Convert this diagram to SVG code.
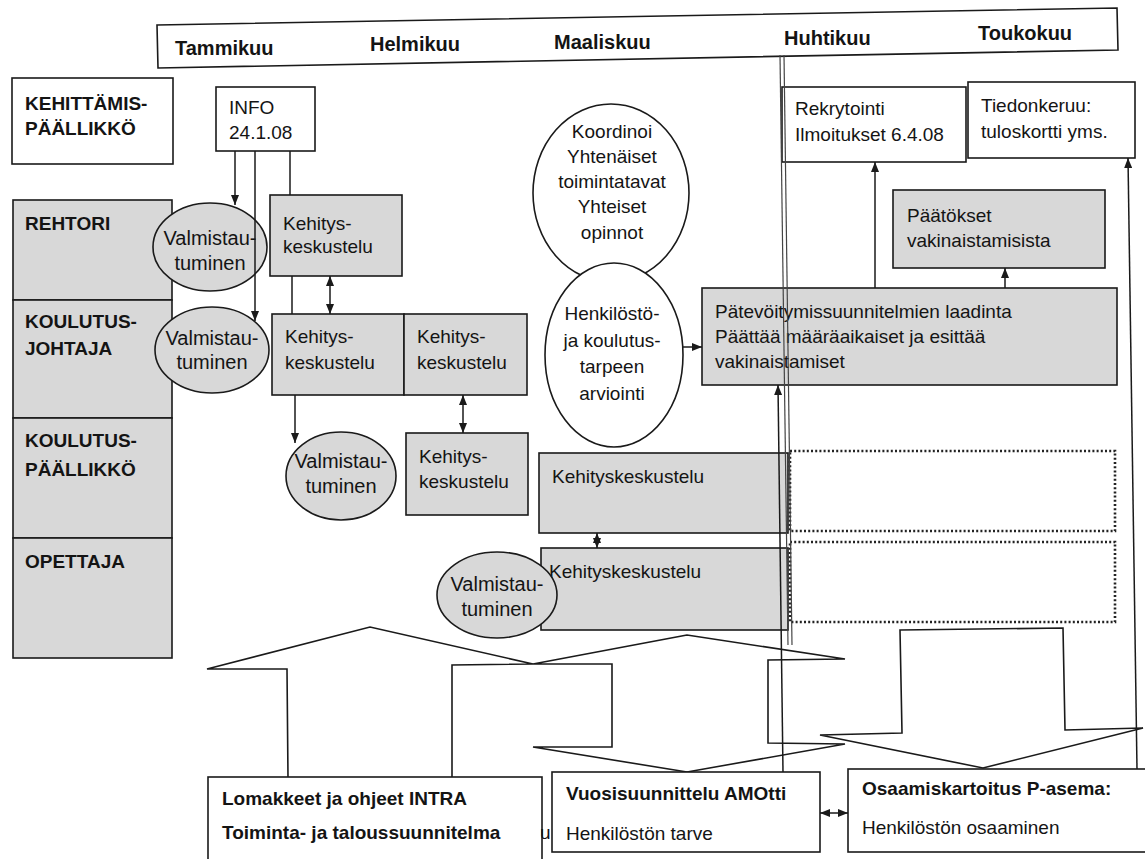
<svg xmlns="http://www.w3.org/2000/svg" width="1145" height="859" viewBox="0 0 1145 859">
<defs>
<style>
.w{fill:#fff;stroke:#1a1a1a;stroke-width:1.6}
.g{fill:#d8d8d8;stroke:#1a1a1a;stroke-width:1.6}
.t{font-family:"Liberation Sans",Arial,sans-serif;font-size:19px;fill:#141414}
.te{font-family:"Liberation Sans",Arial,sans-serif;font-size:20px;fill:#141414;text-anchor:middle}
.tb{font-family:"Liberation Sans",Arial,sans-serif;font-size:19px;font-weight:bold;fill:#141414}
.th{font-family:"Liberation Sans",Arial,sans-serif;font-size:20px;font-weight:bold;fill:#141414}
.c{text-anchor:middle}
.ln{fill:none;stroke:#1a1a1a;stroke-width:1.5}
.ar{fill:none;stroke:#1a1a1a;stroke-width:1.6;stroke-linejoin:miter}
.dot{fill:none;stroke:#222;stroke-width:2.6;stroke-dasharray:2 2.2}
.dl{fill:none;stroke:#444;stroke-width:1.2}
</style>
<marker id="ah" viewBox="0 0 10 8" refX="10" refY="4" markerWidth="10" markerHeight="8" orient="auto-start-reverse" markerUnits="userSpaceOnUse"><path d="M0,0 L10,4 L0,8 z" fill="#1a1a1a"/></marker>
</defs>

<g id="header">
<polygon class="w" points="157,25 1117,8 1118,50 158,68"/>
<text class="th" x="175" y="55">Tammikuu</text>
<text class="th" x="370" y="51">Helmikuu</text>
<text class="th" x="554" y="49">Maaliskuu</text>
<text class="th" x="784" y="45">Huhtikuu</text>
<text class="th" x="978" y="40">Toukokuu</text>
</g>

<g id="role-kehittamis">
<rect class="w" x="12" y="78" width="161" height="86"/>
<text class="tb" x="25" y="110">KEHITTÄMIS-</text>
<text class="tb" x="25" y="135">PÄÄLLIKKÖ</text>
</g>
<g id="role-rehtori">
<rect class="g" x="13" y="200" width="159" height="100"/>
<text class="tb" x="25" y="230">REHTORI</text>
</g>
<g id="role-koulutusjohtaja">
<rect class="g" x="13" y="300" width="159" height="118"/>
<text class="tb" x="25" y="328">KOULUTUS-</text>
<text class="tb" x="25" y="355">JOHTAJA</text>
</g>
<g id="role-koulutuspaallikko">
<rect class="g" x="13" y="418" width="159" height="120"/>
<text class="tb" x="25" y="447">KOULUTUS-</text>
<text class="tb" x="25" y="476">PÄÄLLIKKÖ</text>
</g>
<g id="role-opettaja">
<rect class="g" x="13" y="538" width="159" height="120"/>
<text class="tb" x="25" y="568">OPETTAJA</text>
</g>

<g id="info">
<rect class="w" x="216" y="87" width="99" height="64"/>
<text class="t" x="229" y="114">INFO</text>
<text class="t" x="229" y="139">24.1.08</text>
</g>

<g id="valm-rehtori">
<ellipse class="g" cx="210" cy="247" rx="57" ry="44"/>
<text class="te" x="210" y="245">Valmistau-</text>
<text class="te" x="210" y="270">tuminen</text>
</g>
<g id="kehitys-rehtori">
<rect class="g" x="270" y="195" width="132" height="81"/>
<text class="t" x="283" y="230">Kehitys-</text>
<text class="t" x="283" y="253">keskustelu</text>
</g>

<g id="valm-kj">
<ellipse class="g" cx="212" cy="350" rx="57" ry="43"/>
<text class="te" x="212" y="345">Valmistau-</text>
<text class="te" x="212" y="369">tuminen</text>
</g>
<g id="kehitys-kj-a">
<rect class="g" x="272" y="314" width="132" height="81"/>
<text class="t" x="285" y="343">Kehitys-</text>
<text class="t" x="285" y="369">keskustelu</text>
</g>
<g id="kehitys-kj-b">
<rect class="g" x="404" y="314" width="123" height="81"/>
<text class="t" x="417" y="343">Kehitys-</text>
<text class="t" x="417" y="369">keskustelu</text>
</g>

<g id="valm-kp">
<ellipse class="g" cx="341" cy="476" rx="55" ry="44"/>
<text class="te" x="341" y="468">Valmistau-</text>
<text class="te" x="341" y="493">tuminen</text>
</g>
<g id="kehitys-kp">
<rect class="g" x="406" y="433" width="122" height="82"/>
<text class="t" x="419" y="463">Kehitys-</text>
<text class="t" x="419" y="488">keskustelu</text>
</g>

<g id="koordinoi">
<ellipse class="w" cx="611" cy="193" rx="78" ry="89"/>
<text class="t c" x="612" y="138">Koordinoi</text>
<text class="t c" x="612" y="163">Yhtenäiset</text>
<text class="t c" x="612" y="188">toimintatavat</text>
<text class="t c" x="612" y="213">Yhteiset</text>
<text class="t c" x="612" y="239">opinnot</text>
</g>
<g id="henkilosto">
<ellipse class="w" cx="614" cy="355" rx="69" ry="92"/>
<text class="t c" x="612" y="320">Henkilöstö-</text>
<text class="t c" x="612" y="347">ja koulutus-</text>
<text class="t c" x="612" y="373">tarpeen</text>
<text class="t c" x="612" y="400">arviointi</text>
</g>

<g id="kehityskeskustelu-kp">
<rect class="g" x="539" y="453" width="249" height="80"/>
<text class="t" x="552" y="483">Kehityskeskustelu</text>
</g>
<g id="kehityskeskustelu-op">
<rect class="g" x="541" y="548" width="247" height="82"/>
<text class="t" x="549" y="578">Kehityskeskustelu</text>
</g>
<g id="valm-op">
<ellipse class="g" cx="497" cy="595" rx="60" ry="43"/>
<text class="te" x="497" y="591">Valmistau-</text>
<text class="te" x="497" y="616">tuminen</text>
</g>

<g id="dotted-kp"><rect class="dot" x="790" y="451" width="325" height="80"/></g>
<g id="dotted-op"><rect class="dot" x="790" y="542" width="325" height="80"/></g>

<g id="rekrytointi">
<rect class="w" x="782" y="87" width="184" height="75"/>
<text class="t" x="795" y="115">Rekrytointi</text>
<text class="t" x="795" y="141">Ilmoitukset 6.4.08</text>
</g>
<g id="tiedonkeruu">
<rect class="w" x="968" y="82" width="167" height="76"/>
<text class="t" x="981" y="112">Tiedonkeruu:</text>
<text class="t" x="981" y="138">tuloskortti yms.</text>
</g>
<g id="paatokset">
<rect class="g" x="893" y="190" width="212" height="78"/>
<text class="t" x="907" y="222">Päätökset</text>
<text class="t" x="907" y="247">vakinaistamisista</text>
</g>
<g id="patevoitymis">
<rect class="g" x="702" y="288" width="415" height="97"/>
<text class="t" x="715" y="318">Pätevöitymissuunnitelmien laadinta</text>
<text class="t" x="715" y="343">Päättää määräaikaiset ja esittää</text>
<text class="t" x="715" y="368">vakinaistamiset</text>
</g>

<g id="big-arrows">
<polyline class="ar" points="288,778 287,669 207,669 370,627 533,664 452,665 452,777"/>
<polygon class="ar" points="687,635 533,664 612,664 612,747 533,747 687,772 845,744 768,743 768,660 845,659"/>
<polygon class="ar" points="900,630 1063,628 1065,730 1143,728 983,768 820,735 902,733"/>
</g>

<g id="lomakkeet">
<rect class="w" x="208" y="777" width="334" height="90"/>
<text class="tb" x="222" y="805">Lomakkeet ja ohjeet INTRA</text>
<text class="tb" x="222" y="839">Toiminta- ja taloussuunnitelma</text>
</g>
<text class="t" x="540" y="839">u</text>
<g id="vuosisuunnittelu">
<rect class="w" x="552" y="772" width="268" height="80"/>
<text class="tb" x="566" y="800">Vuosisuunnittelu AMOtti</text>
<text class="t" x="566" y="840">Henkilöstön tarve</text>
</g>
<g id="osaamiskartoitus">
<rect class="w" x="848" y="769" width="310" height="83"/>
<text class="tb" x="862" y="795">Osaamiskartoitus P-asema:</text>
<text class="t" x="862" y="834">Henkilöstön osaaminen</text>
</g>

<g id="connectors">
<line class="dl" x1="780" y1="55" x2="788" y2="645"/>
<line class="dl" x1="784" y1="55" x2="792" y2="645"/>
<line class="ln" x1="235" y1="151" x2="235" y2="205" marker-end="url(#ah)"/>
<line class="ln" x1="255" y1="151" x2="255" y2="321" marker-end="url(#ah)"/>
<line class="ln" x1="290" y1="151" x2="290" y2="195"/>
<line class="ln" x1="292" y1="276" x2="292" y2="314"/>
<line class="ln" x1="330" y1="276" x2="330" y2="314" marker-start="url(#ah)" marker-end="url(#ah)"/>
<line class="ln" x1="295" y1="395" x2="295" y2="443" marker-end="url(#ah)"/>
<line class="ln" x1="463" y1="395" x2="463" y2="433" marker-start="url(#ah)" marker-end="url(#ah)"/>
<line class="ln" x1="597" y1="533" x2="597" y2="548" marker-start="url(#ah)" marker-end="url(#ah)"/>
<line class="ln" x1="683" y1="347" x2="702" y2="347" marker-end="url(#ah)"/>
<line class="ln" x1="875" y1="288" x2="875" y2="162" marker-end="url(#ah)"/>
<line class="ln" x1="1005" y1="288" x2="1005" y2="268" marker-end="url(#ah)"/>
<line class="ln" x1="1137" y1="769" x2="1128" y2="158" marker-end="url(#ah)"/>
<line class="ln" x1="783" y1="772" x2="778" y2="385" marker-end="url(#ah)"/>
<line class="ln" x1="820" y1="813" x2="848" y2="813" marker-start="url(#ah)" marker-end="url(#ah)"/>
</g>
</svg>
